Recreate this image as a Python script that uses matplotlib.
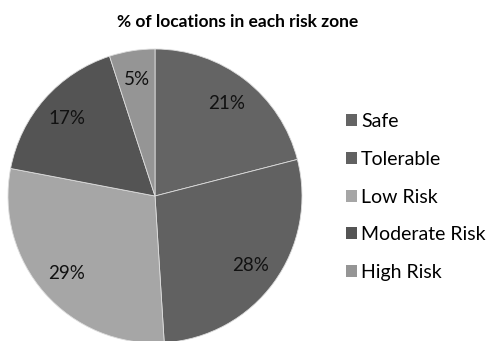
import matplotlib.pyplot as plt
from matplotlib.patches import Patch

plt.rcParams['font.family'] = ['Lato', 'DejaVu Sans']

# Share of locations per risk zone
zones = ["Safe", "Tolerable", "Low Risk", "Moderate Risk", "High Risk"]
shares = [21, 28, 29, 17, 5]
colors = ['#646464', '#616161', '#a6a6a6', '#545454', '#959595']

W, H = 487, 341
fig = plt.figure(figsize=(W / 100, H / 100), dpi=100)

# pie axes placed in pixel terms: centre (155, 196 from top), radius 147
cx, cy, r = 155, H - 196, 147
ax = fig.add_axes([(cx - r) / W, (cy - r) / H, 2 * r / W, 2 * r / H])
ax.pie(shares, colors=colors, startangle=90, counterclock=False,
       autopct='%.0f%%', pctdistance=0.8,
       wedgeprops=dict(edgecolor='#dddddd', linewidth=0.6),
       textprops=dict(fontsize=13.5, color='#111111'))
ax.set_xlim(-1, 1)
ax.set_ylim(-1, 1)
ax.set_aspect('equal')
ax.axis('off')

fig.text(238 / W, 1 - 22 / H, "% of locations in each risk zone",
         ha='center', va='center', fontsize=12.5, fontweight='bold')

handles = [Patch(facecolor=c, edgecolor='none') for c in colors]
fig.legend(handles, zones, loc='center left', bbox_to_anchor=(328 / W, 1 - 197 / H),
           frameon=False, fontsize=14, handlelength=0.58, handleheight=0.58,
           handletextpad=0.22, labelspacing=1.06)

fig.savefig('out.png', dpi=100)
